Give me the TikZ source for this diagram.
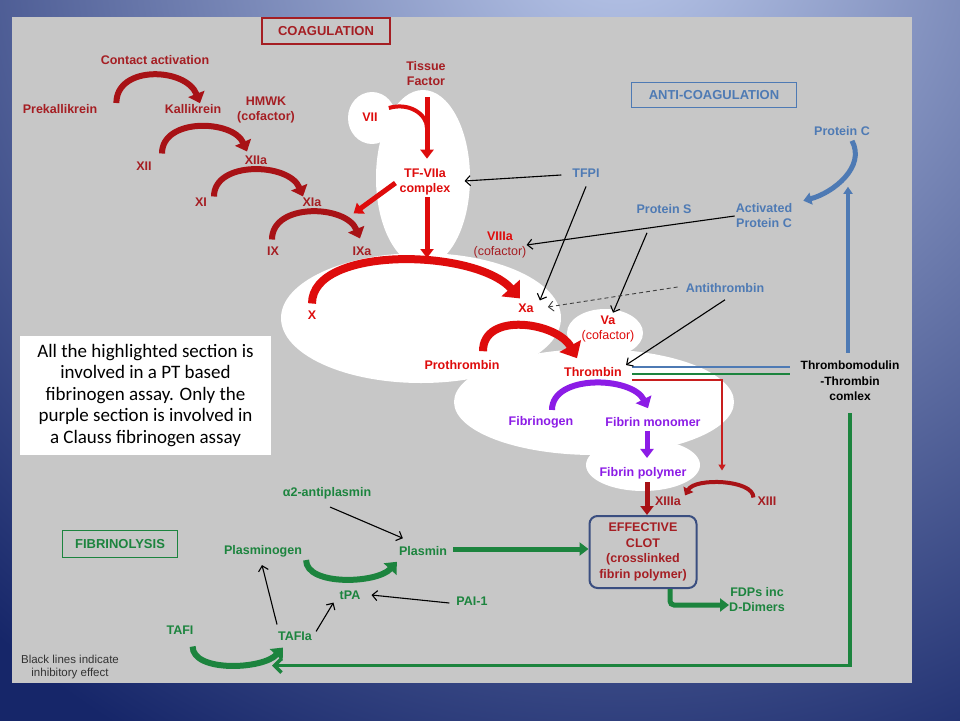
\documentclass[tikz,border=0pt]{standalone}
\usepackage{fontspec}
\setmainfont{Liberation Sans}
\newfontfamily\notefont{Carlito}
\usepackage{tikz}
\usetikzlibrary{arrows.meta}

\definecolor{bgtop}{RGB}{188,202,236}
\definecolor{bgbot}{RGB}{22,38,105}
\definecolor{panel}{RGB}{199,199,199}
\definecolor{coagred}{RGB}{165,30,35}
\definecolor{hotred}{RGB}{222,12,12}
\definecolor{darkred}{RGB}{168,18,22}
\definecolor{redline}{RGB}{200,30,30}
\definecolor{fibpurple}{RGB}{140,28,230}
\definecolor{antiblue}{RGB}{78,122,180}
\definecolor{lysgreen}{RGB}{28,132,62}
\definecolor{clotblue}{RGB}{58,78,128}

\tikzset{
  lbl/.style={font=\bfseries\fontsize{12.5}{15}\selectfont, inner sep=1pt, align=center},
  title/.style={font=\bfseries\fontsize{13}{15}\selectfont, line width=1.2pt, inner sep=2pt},
  fatarc/.style={line width=6pt, -{Triangle[length=10pt,width=17pt]}},
  bigarc/.style={line width=8pt, -{Triangle[length=14pt,width=24pt]}},
  fatline/.style={line width=5pt, -{Triangle[length=9pt,width=13pt]}},
  inhib/.style={black, line width=1.1pt, -{Straight Barb[length=5pt,width=10pt]}}
}

\begin{document}
\begin{tikzpicture}[x=1pt,y=-1pt]
\useasboundingbox (0,0) rectangle (960,720);
\fill[bgbot] (-3,-3) rectangle (963,723);
\begin{scope}
\clip (-3,-3) rectangle (963,723);
\shade[inner color=bgtop, outer color=bgbot] (620,-80) circle [radius=950];
\end{scope}
\fill[panel] (12,17) rectangle (912,683);

% highlighted section
\fill[white] (423,178) ellipse [x radius=47, y radius=88];
\fill[white] (372,118) ellipse [x radius=24, y radius=26];
\fill[white] (421,318) ellipse [x radius=140, y radius=65];
\fill[white] (605,333) ellipse [x radius=38, y radius=24];
\fill[white] (594,402) ellipse [x radius=140, y radius=53];
\fill[white] (643,465) ellipse [x radius=57, y radius=26];

\node[title, draw=coagred, text=coagred, minimum width=128, minimum height=26] (coag) at (326,31) {COAGULATION};
\node[title, draw=antiblue, text=antiblue, minimum width=165, minimum height=25] (anti) at (714,95) {ANTI-COAGULATION};
\node[title, draw=lysgreen, text=lysgreen, minimum width=115, minimum height=27] (fib) at (120,544) {FIBRINOLYSIS};

\node[lbl, text=coagred] (contact) at (155,60) {Contact activation};
\node[lbl, text=coagred] (pk) at (60,109) {Prekallikrein};
\node[lbl, text=coagred] (kal) at (193,109) {Kallikrein};
\node[lbl, text=coagred] (hmwk) at (266,110) {HMWK\\(cofactor)};
\node[lbl, text=coagred] (xii) at (144,166) {XII};
\node[lbl, text=coagred] (xiia) at (256,160) {XIIa};
\node[lbl, text=coagred] (xi) at (201,202) {XI};
\node[lbl, text=coagred] (xia) at (312,202) {XIa};
\node[lbl, text=coagred] (ix) at (273,251) {IX};
\node[lbl, text=coagred] (ixa) at (362,251) {IXa};
\node[lbl, text=coagred] (tf) at (426,74) {Tissue\\Factor};
\node[lbl, text=hotred] (vii) at (370,117) {VII};
\node[lbl, text=hotred] (tfvii) at (425,182) {TF-VIIa\\complex};
\node[lbl, text=hotred] (fx) at (312,315) {X};
\node[lbl, text=hotred] (fxa) at (526,308) {Xa};
\node[lbl, text=hotred] (viii) at (500,245) {VIIIa\\{\mdseries\color{coagred}(cofactor)}};
\node[lbl, text=hotred] (va) at (608,329) {Va\\{\mdseries(cofactor)}};
\node[lbl, text=hotred] (pt) at (462,365) {Prothrombin};
\node[lbl, text=hotred] (thr) at (593,372) {Thrombin};
\node[lbl, text=fibpurple] (fbg) at (541,422) {Fibrinogen};
\node[lbl, text=fibpurple] (fmono) at (653,422) {Fibrin monomer};
\node[lbl, text=fibpurple] (fpoly) at (643,473) {Fibrin polymer};
\node[lbl, text=coagred] (xiiia) at (668,501) {XIIIa};
\node[lbl, text=coagred] (xiii) at (767,501) {XIII};
\node[lbl, text=coagred, draw=clotblue, line width=2pt, rounded corners=8pt, minimum width=107, minimum height=72, font=\bfseries\fontsize{12.5}{15.5}\selectfont] (clot) at (643,552) {EFFECTIVE\\CLOT\\(crosslinked\\fibrin polymer)};

\node[lbl, text=antiblue] (tfpi) at (586,173) {TFPI};
\node[lbl, text=antiblue] (ps) at (664,209) {Protein S};
\node[lbl, text=antiblue] (apc) at (764,216) {Activated\\Protein C};
\node[lbl, text=antiblue] (pc) at (842,131) {Protein C};
\node[lbl, text=antiblue] (atiii) at (725,288) {Antithrombin};
\node[lbl, text=black, font=\bfseries\fontsize{12}{15.5}\selectfont] (tm) at (850,381) {Thrombomodulin\\-Thrombin\\comlex};

\node[lbl, text=lysgreen] (a2ap) at (327,493) {α2-antiplasmin};
\node[lbl, text=lysgreen] (plg) at (263,551) {Plasminogen};
\node[lbl, text=lysgreen] (pln) at (423,551) {Plasmin};
\node[lbl, text=lysgreen] (tpa) at (350,595) {tPA};
\node[lbl, text=lysgreen] (pai) at (472,601) {PAI-1};
\node[lbl, text=lysgreen] (tafi) at (180,630) {TAFI};
\node[lbl, text=lysgreen] (tafia) at (295,636) {TAFIa};
\node[lbl, text=lysgreen] (fdp) at (757,600) {FDPs inc\\D-Dimers};

\node[font=\fontsize{11.5}{12.5}\selectfont, text=black!80, align=center, inner sep=1pt] (legend) at (70,667) {Black lines indicate\\inhibitory effect};
\node[fill=white, text=black, font=\notefont\fontsize{19}{21.5}\selectfont, align=center, minimum width=251, minimum height=119, inner sep=0pt] (note) at (145.5,395.5) {All the highlighted section is\\involved in a PT based\\fibrinogen assay. Only the\\purple section is involved in\\a Clauss fibrinogen assay};

\coordinate (tfjoin) at (427,128);
\coordinate (xtop) at (427,258);

% coagulation
\draw[fatarc, darkred] ([shift={(18,-6)}]pk.east) .. controls +(0,-38) and +(-14,-36) .. ([shift={(7,0)}]kal.north);
\draw[fatarc, darkred] ([shift={(18,-7)}]xii.north) .. controls +(0,-36) and +(-14,-32) .. ([shift={(-9,-3)}]xiia.north);
\draw[fatarc, darkred] ([shift={(13,0)}]xi.north) .. controls +(0,-36) and +(-14,-34) .. ([shift={(-9,0)}]xia.north);
\draw[fatarc, darkred] ([shift={(-1,-6)}]ix.north) .. controls +(0,-37) and +(-14,-34) .. ([shift={(-2,-7)}]ixa.north);
\draw[fatline, hotred] ([shift={(1,10)}]tf.south) -- ([shift={(2,-9)}]tfvii.north);
\draw[line width=4pt, hotred] ([shift={(10,-9)}]vii.east) .. controls +(20,-6) and +(0,-14) .. (tfjoin);
\draw[fatline, hotred] ([shift={(-3,1)}]tfvii.west) -- ([shift={(-19,-32)}]ixa.north east);
\draw[fatline, hotred] ([shift={(2,1)}]tfvii.south) -- (xtop);
\draw[bigarc, hotred] ([shift={(0,-6)}]fx.north) .. controls +(0,-58) and +(-45,-50) .. ([shift={(-6,-4)}]fxa.north);
\draw[bigarc, hotred] ([shift={(21,-8)}]pt.north) .. controls +(0,-40) and +(-20,-36) .. ([shift={(-16,-8)}]thr.north);
\draw[fatarc, fibpurple] ([shift={(11,-5)}]fbg.north) .. controls +(0,-36) and +(-16,-32) .. ([shift={(-5,-8)}]fmono.north);
\draw[fatline, fibpurple] ([shift={(-6,3)}]fmono.south) -- ([shift={(4,-8)}]fpoly.north);
\draw[fatline, darkred] ([shift={(4,2)}]fpoly.south) -- ([shift={(4,0)}]clot.north);
\draw[line width=4pt, darkred, -{Triangle[length=7pt,width=11pt]}] ([shift={(-3,2)}]xiii.north west) .. controls +(0,-18) and +(10,-18) .. ([shift={(3,0)}]xiiia.north east);

% thrombin to thrombomodulin
\draw[line width=2.5pt, antiblue] ([shift={(9,-5)}]thr.east) -- ([shift={(-9,-14)}]tm.west);
\draw[line width=2.5pt, lysgreen] ([shift={(9,2)}]thr.east) -- ([shift={(-9,-7)}]tm.west);
\draw[line width=2pt, redline, -{Triangle[length=6pt,width=7pt]}] ([shift={(9,8)}]thr.east) -| ([shift={(-45,-25)}]xiii.north);
\draw[line width=4pt, antiblue, -{Triangle[length=7pt,width=9pt]}] ([shift={(-2,-7)}]tm.north) -- ([shift={(6,50)}]pc.south);
\draw[line width=3.5pt, lysgreen, -{Straight Barb[length=7pt,width=14pt]}] ([shift={(0,11)}]tm.south) |- ([shift={(-23,24)}]tafia.south);
\draw[line width=5pt, antiblue, -{Triangle[length=8pt,width=12pt]}] ([shift={(10,4)}]pc.south) .. controls +(14,26) and +(30,-8) .. ([shift={(10,-2)}]apc.north east);

% fibrinolysis
\draw[fatarc, lysgreen] ([shift={(3,2)}]plg.south east) .. controls +(0,26) and +(-20,22) .. ([shift={(-1,5)}]pln.south west);
\draw[fatline, lysgreen] ([shift={(5,-2)}]pln.east) -- ([shift={(0,-3)}]clot.west);
\draw[fatline, lysgreen, rounded corners=4pt] ([shift={(27,0)}]clot.south) |- ([shift={(1,5)}]fdp.west);
\draw[fatarc, lysgreen] ([shift={(-2,11)}]tafi.south east) .. controls +(0,26) and +(-20,22) .. ([shift={(6,6)}]tafia.south west);

% inhibitory effects
\draw[inhib] ([shift={(-10,2)}]tfpi.west) -- ([shift={(13,-1)}]tfvii.east);
\draw[inhib] ([shift={(0,8)}]tfpi.south) -- ([shift={(5,-2)}]fxa.north east);
\draw[inhib] (apc.west) -- ([shift={(-1,0)}]viii.east);
\draw[inhib] ([shift={(-17,18)}]ps.south) -- ([shift={(5,-2)}]va.north);
\draw[inhib, black!75, dash pattern=on 4pt off 3pt, line width=0.9pt] ([shift={(-7,-1)}]atiii.west) -- ([shift={(13,-1)}]fxa.east);
\draw[inhib] ([shift={(0,6)}]atiii.south) -- ([shift={(3,-7)}]thr.east);
\draw[inhib] ([shift={(3,7)}]a2ap.south) -- ([shift={(5,-7)}]pln.north west);
\draw[inhib] ([shift={(-6,2)}]pai.west) -- ([shift={(10,0)}]tpa.east);
\draw[inhib] ([shift={(-18,-6)}]tafia.north) -- ([shift={(-1,7)}]plg.south);
\draw[inhib] ([shift={(3,1)}]tafia.north east) -- ([shift={(-5,2)}]tpa.south west);
\end{tikzpicture}
\end{document}
